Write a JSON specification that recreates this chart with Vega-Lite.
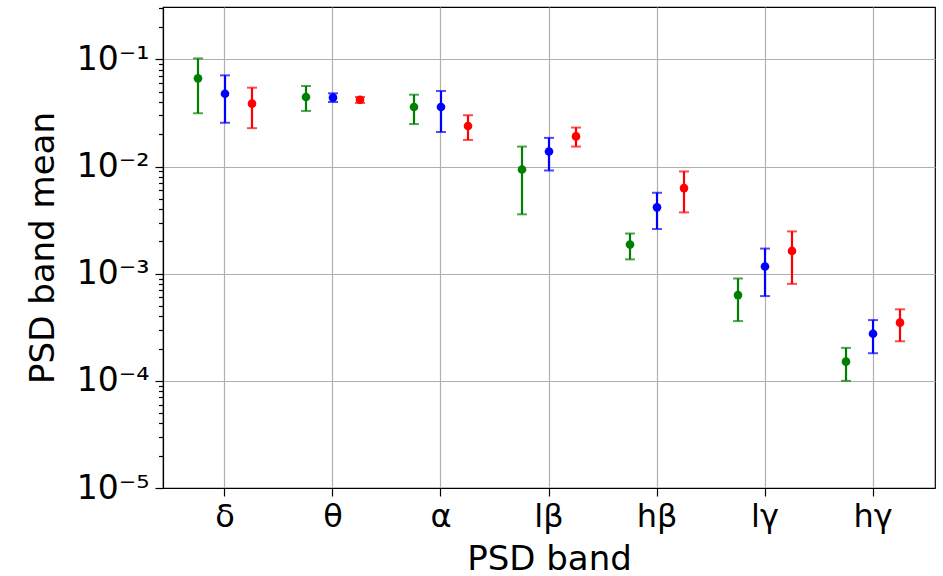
{
  "$schema": "https://vega.github.io/schema/vega-lite/v6.json",
  "autosize": "none",
  "width": 772,
  "height": 481,
  "padding": {"left": 163, "top": 7, "right": 8, "bottom": 88},
  "background": "white",
  "config": {
    "view": {"stroke": "black", "strokeWidth": 1.2},
    "font": "DejaVu Sans",
    "axis": {
      "labelFont": "DejaVu Sans",
      "titleFont": "DejaVu Sans",
      "labelColor": "black",
      "titleColor": "black",
      "titleFontWeight": "normal",
      "domainColor": "black",
      "domainWidth": 1.2,
      "tickColor": "black",
      "tickWidth": 1.2,
      "gridColor": "#b0b0b0",
      "gridWidth": 1.2
    }
  },
  "data": {
    "values": [
      {"band": "δ", "group": "Group 1", "mean": 0.0665, "lo": 0.0314, "hi": 0.102},
      {"band": "δ", "group": "Group 2", "mean": 0.0478, "lo": 0.0256, "hi": 0.0709},
      {"band": "δ", "group": "Group 3", "mean": 0.0386, "lo": 0.0228, "hi": 0.0544},
      {"band": "θ", "group": "Group 1", "mean": 0.0445, "lo": 0.033, "hi": 0.0564},
      {"band": "θ", "group": "Group 2", "mean": 0.0439, "lo": 0.040, "hi": 0.0482},
      {"band": "θ", "group": "Group 3", "mean": 0.042, "lo": 0.0392, "hi": 0.0445},
      {"band": "α", "group": "Group 1", "mean": 0.0359, "lo": 0.0249, "hi": 0.0468},
      {"band": "α", "group": "Group 2", "mean": 0.0359, "lo": 0.021, "hi": 0.0507},
      {"band": "α", "group": "Group 3", "mean": 0.0239, "lo": 0.0177, "hi": 0.0301},
      {"band": "lβ", "group": "Group 1", "mean": 0.00938, "lo": 0.00358, "hi": 0.01535},
      {"band": "lβ", "group": "Group 2", "mean": 0.0138, "lo": 0.00918, "hi": 0.0185},
      {"band": "lβ", "group": "Group 3", "mean": 0.0191, "lo": 0.01535, "hi": 0.0231},
      {"band": "hβ", "group": "Group 1", "mean": 0.00187, "lo": 0.00136, "hi": 0.00237},
      {"band": "hβ", "group": "Group 2", "mean": 0.00416, "lo": 0.00261, "hi": 0.00569},
      {"band": "hβ", "group": "Group 3", "mean": 0.00629, "lo": 0.00373, "hi": 0.00899},
      {"band": "lγ", "group": "Group 1", "mean": 0.000631, "lo": 0.000361, "hi": 0.000902},
      {"band": "lγ", "group": "Group 2", "mean": 0.001167, "lo": 0.000618, "hi": 0.001715},
      {"band": "lγ", "group": "Group 3", "mean": 0.00163, "lo": 0.000804, "hi": 0.00248},
      {"band": "hγ", "group": "Group 1", "mean": 0.000151, "lo": 0.0001, "hi": 0.000203},
      {"band": "hγ", "group": "Group 2", "mean": 0.000275, "lo": 0.000181, "hi": 0.000369},
      {"band": "hγ", "group": "Group 3", "mean": 0.000349, "lo": 0.000234, "hi": 0.000465}
    ]
  },
  "encoding": {
    "x": {
      "field": "band",
      "type": "nominal",
      "sort": ["δ", "θ", "α", "lβ", "hβ", "lγ", "hγ"],
      "scale": {"type": "band", "paddingInner": 0, "paddingOuter": 0.074},
      "axis": {
        "title": "PSD band",
        "titleFontSize": 34,
        "titlePadding": 10,
        "labelFontSize": 32,
        "labelAngle": 0,
        "labelPadding": 5,
        "tickSize": 8,
        "grid": true,
        "bandPosition": 0.5
      }
    },
    "xOffset": {
      "field": "group",
      "type": "nominal",
      "sort": ["Group 1", "Group 2", "Group 3"],
      "scale": {"type": "band", "paddingInner": 0, "paddingOuter": 0.5}
    },
    "color": {
      "field": "group",
      "type": "nominal",
      "scale": {"domain": ["Group 1", "Group 2", "Group 3"], "range": ["#008000", "#0000ff", "#ff0000"]},
      "legend": null
    }
  },
  "layer": [
    {
      "mark": {"type": "rule", "strokeWidth": 2.2},
      "encoding": {
        "y": {
          "field": "lo",
          "type": "quantitative",
          "scale": {"type": "log", "domain": [0.00001, 0.308], "nice": false, "zero": false},
          "axis": {
            "title": "PSD band mean",
            "titleFontSize": 34,
            "titlePadding": 16,
            "labelFontSize": 33,
            "labelPadding": 6,
            "values": [0.00001, 0.00002, 0.00003, 0.00004, 0.00005, 0.00006, 0.00007, 0.00008, 0.00009,
                       0.0001, 0.0002, 0.0003, 0.0004, 0.0005, 0.0006, 0.0007, 0.0008, 0.0009,
                       0.001, 0.002, 0.003, 0.004, 0.005, 0.006, 0.007, 0.008, 0.009,
                       0.01, 0.02, 0.03, 0.04, 0.05, 0.06, 0.07, 0.08, 0.09,
                       0.1, 0.2, 0.3],
            "labelExpr": "abs(log(datum.value)/LN10 - round(log(datum.value)/LN10)) < 0.000001 ? '10⁻' + ['⁰','¹','²','³','⁴','⁵'][-round(log(datum.value)/LN10)] : ''",
            "tickSize": {"condition": {"test": "abs(log(datum.value)/LN10 - round(log(datum.value)/LN10)) < 0.000001", "value": 8}, "value": 4.5},
            "gridOpacity": {"condition": {"test": "abs(log(datum.value)/LN10 - round(log(datum.value)/LN10)) < 0.000001", "value": 1}, "value": 0},
            "grid": true
          }
        },
        "y2": {"field": "hi"}
      }
    },
    {
      "mark": {"type": "tick", "thickness": 2, "size": 10, "orient": "horizontal"},
      "encoding": {"y": {"field": "lo", "type": "quantitative"}}
    },
    {
      "mark": {"type": "tick", "thickness": 2, "size": 10, "orient": "horizontal"},
      "encoding": {"y": {"field": "hi", "type": "quantitative"}}
    },
    {
      "mark": {"type": "point", "filled": true, "shape": "circle", "size": 75, "opacity": 1},
      "encoding": {"y": {"field": "mean", "type": "quantitative"}}
    }
  ]
}
